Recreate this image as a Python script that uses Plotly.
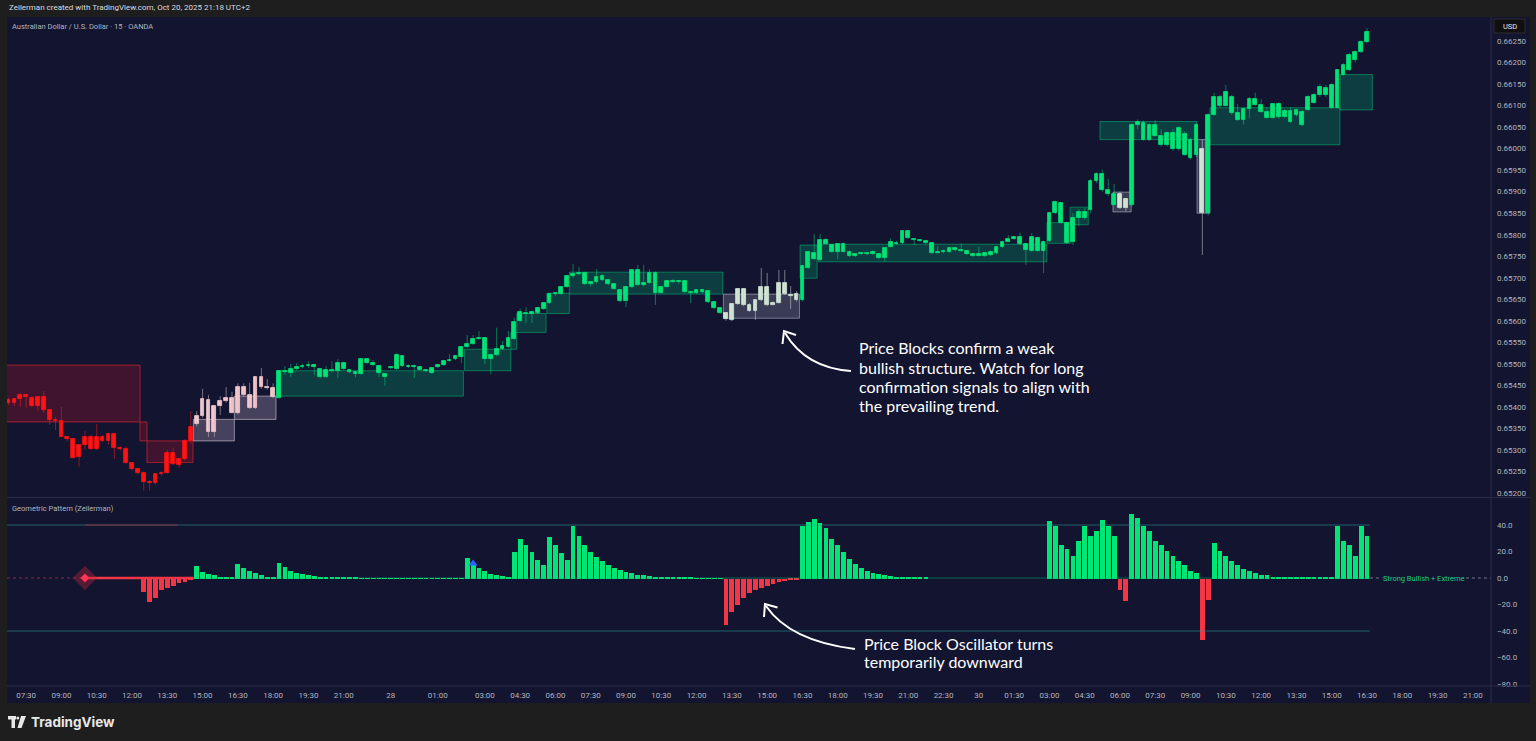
import plotly.graph_objects as go

# ---------------- data ----------------
open_ = [
    0.65416, 0.65409, 0.65418, 0.65428, 0.65421, 0.65402, 0.65423, 0.65393, 0.65370, 0.65368,
    0.65330, 0.65325, 0.65283, 0.65312, 0.65330, 0.65303, 0.65330, 0.65321, 0.65337, 0.65305,
    0.65302, 0.65270, 0.65256, 0.65247, 0.65226, 0.65224, 0.65244, 0.65247, 0.65293, 0.65266,
    0.65279, 0.65321, 0.65360, 0.65379, 0.65416, 0.65342, 0.65402, 0.65414, 0.65420, 0.65386,
    0.65446, 0.65428, 0.65397, 0.65470, 0.65447, 0.65444, 0.65421, 0.65483, 0.65478, 0.65488,
    0.65493, 0.65495, 0.65497, 0.65488, 0.65469, 0.65486, 0.65483, 0.65502, 0.65486, 0.65481,
    0.65476, 0.65511, 0.65502, 0.65495, 0.65476, 0.65490, 0.65488, 0.65518, 0.65495, 0.65493,
    0.65493, 0.65486, 0.65479, 0.65492, 0.65497, 0.65507, 0.65511, 0.65516, 0.65539, 0.65546,
    0.65558, 0.65560, 0.65511, 0.65521, 0.65535, 0.65539, 0.65558, 0.65600, 0.65618, 0.65616,
    0.65618, 0.65627, 0.65641, 0.65662, 0.65662, 0.65679, 0.65704, 0.65709, 0.65711, 0.65686,
    0.65690, 0.65704, 0.65695, 0.65686, 0.65672, 0.65645, 0.65679, 0.65718, 0.65683, 0.65688,
    0.65712, 0.65665, 0.65679, 0.65693, 0.65690, 0.65692, 0.65667, 0.65665, 0.65671, 0.65669,
    0.65644, 0.65629, 0.65618, 0.65602, 0.65639, 0.65673, 0.65637, 0.65623, 0.65648, 0.65678,
    0.65637, 0.65642, 0.65688, 0.65660, 0.65648, 0.65648, 0.65723, 0.65757, 0.65741, 0.65788,
    0.65776, 0.65761, 0.65778, 0.65761, 0.65751, 0.65756, 0.65758, 0.65755, 0.65755, 0.65745,
    0.65772, 0.65781, 0.65780, 0.65809, 0.65790, 0.65788, 0.65785, 0.65780, 0.65758, 0.65759,
    0.65760, 0.65768, 0.65764, 0.65763, 0.65755, 0.65751, 0.65751, 0.65752, 0.65757, 0.65772,
    0.65784, 0.65790, 0.65795, 0.65778, 0.65763, 0.65793, 0.65763, 0.65785, 0.65850, 0.65874,
    0.65828, 0.65782, 0.65839, 0.65853, 0.65857, 0.65924, 0.65940, 0.65905, 0.65894, 0.65894,
    0.65863, 0.65870, 0.66056, 0.66060, 0.66021, 0.66054, 0.66030, 0.66009, 0.66037, 0.65998,
    0.66033, 0.66021, 0.65985, 0.66000, 0.65850, 0.66079, 0.66121, 0.66100, 0.66121, 0.66082,
    0.66067, 0.66093, 0.66116, 0.66102, 0.66086, 0.66072, 0.66104, 0.66074, 0.66088, 0.66077,
    0.66086, 0.66090, 0.66107, 0.66125, 0.66141, 0.66148, 0.66095, 0.66172, 0.66183, 0.66206,
    0.66225, 0.66248,
]
high_ = [
    0.65421, 0.65420, 0.65432, 0.65430, 0.65425, 0.65425, 0.65437, 0.65395, 0.65377, 0.65400,
    0.65332, 0.65328, 0.65312, 0.65344, 0.65335, 0.65360, 0.65335, 0.65340, 0.65340, 0.65310,
    0.65308, 0.65272, 0.65258, 0.65250, 0.65230, 0.65245, 0.65250, 0.65300, 0.65305, 0.65280,
    0.65325, 0.65390, 0.65390, 0.65442, 0.65428, 0.65404, 0.65425, 0.65446, 0.65435, 0.65455,
    0.65455, 0.65456, 0.65470, 0.65490, 0.65465, 0.65455, 0.65485, 0.65495, 0.65500, 0.65502,
    0.65500, 0.65506, 0.65499, 0.65490, 0.65495, 0.65506, 0.65511, 0.65505, 0.65488, 0.65483,
    0.65512, 0.65513, 0.65509, 0.65497, 0.65478, 0.65495, 0.65525, 0.65520, 0.65499, 0.65498,
    0.65495, 0.65488, 0.65492, 0.65499, 0.65509, 0.65523, 0.65520, 0.65541, 0.65567, 0.65567,
    0.65576, 0.65562, 0.65523, 0.65584, 0.65553, 0.65576, 0.65607, 0.65628, 0.65632, 0.65623,
    0.65632, 0.65643, 0.65664, 0.65667, 0.65681, 0.65706, 0.65732, 0.65725, 0.65714, 0.65692,
    0.65720, 0.65708, 0.65697, 0.65688, 0.65674, 0.65681, 0.65720, 0.65730, 0.65730, 0.65720,
    0.65715, 0.65681, 0.65695, 0.65697, 0.65695, 0.65695, 0.65669, 0.65673, 0.65674, 0.65671,
    0.65646, 0.65631, 0.65620, 0.65641, 0.65676, 0.65676, 0.65641, 0.65650, 0.65723, 0.65711,
    0.65645, 0.65718, 0.65718, 0.65681, 0.65669, 0.65730, 0.65763, 0.65802, 0.65802, 0.65792,
    0.65778, 0.65780, 0.65782, 0.65763, 0.65757, 0.65760, 0.65760, 0.65764, 0.65757, 0.65770,
    0.65792, 0.65786, 0.65811, 0.65811, 0.65792, 0.65790, 0.65787, 0.65782, 0.65773, 0.65765,
    0.65772, 0.65770, 0.65780, 0.65765, 0.65758, 0.65772, 0.65758, 0.65763, 0.65774, 0.65786,
    0.65799, 0.65796, 0.65805, 0.65780, 0.65804, 0.65796, 0.65786, 0.65853, 0.65879, 0.65876,
    0.65830, 0.65850, 0.65860, 0.65862, 0.65930, 0.65945, 0.65951, 0.65930, 0.65918, 0.65900,
    0.65885, 0.66060, 0.66068, 0.66065, 0.66058, 0.66066, 0.66046, 0.66040, 0.66046, 0.66052,
    0.66040, 0.66025, 0.66060, 0.66021, 0.66082, 0.66130, 0.66125, 0.66148, 0.66125, 0.66104,
    0.66095, 0.66120, 0.66130, 0.66115, 0.66096, 0.66106, 0.66108, 0.66092, 0.66096, 0.66093,
    0.66090, 0.66125, 0.66130, 0.66150, 0.66148, 0.66152, 0.66185, 0.66198, 0.66222, 0.66228,
    0.66252, 0.66280,
]
low_ = [
    0.65404, 0.65402, 0.65400, 0.65398, 0.65400, 0.65390, 0.65386, 0.65358, 0.65346, 0.65330,
    0.65320, 0.65280, 0.65261, 0.65300, 0.65300, 0.65300, 0.65318, 0.65312, 0.65279, 0.65298,
    0.65268, 0.65252, 0.65244, 0.65205, 0.65205, 0.65220, 0.65240, 0.65245, 0.65265, 0.65258,
    0.65275, 0.65315, 0.65355, 0.65375, 0.65330, 0.65330, 0.65381, 0.65410, 0.65385, 0.65382,
    0.65424, 0.65395, 0.65395, 0.65442, 0.65440, 0.65420, 0.65419, 0.65474, 0.65470, 0.65485,
    0.65490, 0.65490, 0.65474, 0.65466, 0.65467, 0.65480, 0.65467, 0.65486, 0.65478, 0.65469,
    0.65474, 0.65500, 0.65495, 0.65469, 0.65449, 0.65488, 0.65486, 0.65493, 0.65490, 0.65467,
    0.65484, 0.65481, 0.65477, 0.65490, 0.65495, 0.65505, 0.65509, 0.65502, 0.65537, 0.65544,
    0.65556, 0.65500, 0.65476, 0.65518, 0.65532, 0.65537, 0.65556, 0.65598, 0.65595, 0.65595,
    0.65615, 0.65625, 0.65639, 0.65658, 0.65660, 0.65677, 0.65700, 0.65706, 0.65684, 0.65680,
    0.65686, 0.65693, 0.65683, 0.65672, 0.65643, 0.65632, 0.65676, 0.65681, 0.65680, 0.65686,
    0.65637, 0.65663, 0.65677, 0.65688, 0.65686, 0.65665, 0.65641, 0.65662, 0.65664, 0.65641,
    0.65627, 0.65616, 0.65600, 0.65599, 0.65637, 0.65634, 0.65621, 0.65602, 0.65646, 0.65634,
    0.65636, 0.65640, 0.65660, 0.65627, 0.65645, 0.65645, 0.65721, 0.65742, 0.65739, 0.65776,
    0.65759, 0.65743, 0.65759, 0.65748, 0.65749, 0.65753, 0.65752, 0.65753, 0.65743, 0.65737,
    0.65770, 0.65777, 0.65778, 0.65790, 0.65776, 0.65783, 0.65779, 0.65755, 0.65756, 0.65757,
    0.65758, 0.65762, 0.65760, 0.65753, 0.65749, 0.65750, 0.65749, 0.65750, 0.65755, 0.65770,
    0.65782, 0.65788, 0.65776, 0.65730, 0.65761, 0.65761, 0.65711, 0.65783, 0.65848, 0.65826,
    0.65778, 0.65776, 0.65820, 0.65835, 0.65850, 0.65920, 0.65900, 0.65890, 0.65868, 0.65860,
    0.65855, 0.65865, 0.66045, 0.66019, 0.66018, 0.66028, 0.66005, 0.66005, 0.65995, 0.65995,
    0.65984, 0.65975, 0.65980, 0.65753, 0.65845, 0.66077, 0.66095, 0.66098, 0.66079, 0.66065,
    0.66056, 0.66070, 0.66100, 0.66084, 0.66070, 0.66070, 0.66070, 0.66072, 0.66060, 0.66075,
    0.66052, 0.66088, 0.66105, 0.66120, 0.66120, 0.66093, 0.66093, 0.66170, 0.66180, 0.66200,
    0.66222, 0.66245,
]
close_ = [
    0.65409, 0.65418, 0.65428, 0.65423, 0.65402, 0.65423, 0.65393, 0.65370, 0.65368, 0.65330,
    0.65325, 0.65281, 0.65312, 0.65330, 0.65303, 0.65330, 0.65321, 0.65337, 0.65305, 0.65302,
    0.65270, 0.65256, 0.65247, 0.65226, 0.65224, 0.65244, 0.65247, 0.65293, 0.65268, 0.65279,
    0.65321, 0.65353, 0.65379, 0.65418, 0.65342, 0.65402, 0.65414, 0.65420, 0.65386, 0.65446,
    0.65428, 0.65397, 0.65470, 0.65447, 0.65444, 0.65423, 0.65483, 0.65480, 0.65488, 0.65493,
    0.65496, 0.65497, 0.65492, 0.65469, 0.65486, 0.65484, 0.65502, 0.65488, 0.65481, 0.65476,
    0.65511, 0.65502, 0.65497, 0.65479, 0.65469, 0.65493, 0.65521, 0.65495, 0.65493, 0.65495,
    0.65486, 0.65483, 0.65490, 0.65497, 0.65507, 0.65510, 0.65518, 0.65539, 0.65546, 0.65558,
    0.65561, 0.65511, 0.65521, 0.65535, 0.65541, 0.65560, 0.65597, 0.65620, 0.65616, 0.65620,
    0.65630, 0.65641, 0.65662, 0.65665, 0.65679, 0.65704, 0.65709, 0.65711, 0.65686, 0.65690,
    0.65702, 0.65695, 0.65686, 0.65674, 0.65645, 0.65679, 0.65718, 0.65683, 0.65688, 0.65712,
    0.65665, 0.65679, 0.65693, 0.65690, 0.65692, 0.65667, 0.65665, 0.65671, 0.65667, 0.65644,
    0.65629, 0.65618, 0.65604, 0.65639, 0.65673, 0.65637, 0.65623, 0.65648, 0.65678, 0.65637,
    0.65642, 0.65688, 0.65662, 0.65658, 0.65662, 0.65727, 0.65761, 0.65744, 0.65788, 0.65778,
    0.65761, 0.65778, 0.65761, 0.65750, 0.65756, 0.65758, 0.65755, 0.65759, 0.65745, 0.65768,
    0.65782, 0.65779, 0.65809, 0.65792, 0.65788, 0.65785, 0.65781, 0.65757, 0.65760, 0.65763,
    0.65770, 0.65764, 0.65762, 0.65755, 0.65751, 0.65756, 0.65757, 0.65761, 0.65772, 0.65784,
    0.65790, 0.65794, 0.65778, 0.65764, 0.65794, 0.65763, 0.65784, 0.65851, 0.65877, 0.65828,
    0.65780, 0.65839, 0.65853, 0.65839, 0.65924, 0.65940, 0.65905, 0.65894, 0.65870, 0.65863,
    0.65882, 0.66056, 0.66063, 0.66021, 0.66054, 0.66030, 0.66009, 0.66037, 0.65998, 0.66049,
    0.65986, 0.65979, 0.66056, 0.65850, 0.66079, 0.66121, 0.66100, 0.66132, 0.66082, 0.66067,
    0.66093, 0.66116, 0.66102, 0.66086, 0.66072, 0.66104, 0.66074, 0.66088, 0.66063, 0.66090,
    0.66056, 0.66121, 0.66125, 0.66144, 0.66125, 0.66095, 0.66183, 0.66195, 0.66218, 0.66225,
    0.66248, 0.66271,
]

# candle colouring state (run starts)
state_run_start = [0, 32, 46, 122, 135, 189, 191, 203, 204]
state_run_kind = ["bear", "bear_weak", "bull", "bull_weak", "bull", "bull_weak", "bull", "bull_weak", "bull"]

# oscillator values
osc = [
    0, 0, 0, 0, 0, 0, 0, 0, 0, 0,
    0, 0, 0, 0, 0, 0, 0, 0, 0, 0,
    0, 0, 0, -10.5, -17.5, -15, -9, -7.5, -5.5, -3.5,
    -2.5, -1.5, 9.5, 5, 3.5, 2.5, 1.5, 1.2, 0.8, 11,
    8, 5.5, 4, 2.5, 1.5, 1.0, 11.5, 8.5, 6, 4,
    3.3, 2.5, 2, 1.5, 1.2, 1, 0.8, 0.6, 0.5, 0.4,
    0.35, 0.3, 0.25, 0.2, 0.2, 0.15, 0.15, 0.15, 0.1, 0.1,
    0.1, 0.1, 0.1, 0.1, 0.1, 0.1, 0.1, 0.1, 15.3, 11,
    7.8, 5.3, 3.5, 2.8, 2, 1.5, 20, 30, 25, 20,
    14, 10, 31, 25, 19, 14, 40, 32, 25, 20,
    16, 13, 10, 8, 6.5, 5, 4, 3, 2.5, 2,
    1.5, 1.2, 1, 0.8, 0.6, 0.5, 0.4, 0.3, 0.3, 0.2,
    0.2, 0.2, -35, -25, -20, -15, -11, -9, -7, -5.5,
    -4, -3, -2.2, -1.5, -1, 40, 43, 45, 42, 38,
    30, 25, 20, 15, 11, 8, 6, 4.5, 3.5, 2.5,
    2, 1.5, 1.2, 1, 0.8, 0.7, 0.6, 0, 0, 0,
    0, 0, 0, 0, 0, 0, 0, 0, 0, 0,
    0, 0, 0, 0, 0, 0, 0, 43.6, 40, 25,
    22.5, 17, 28.5, 40, 32, 36, 44, 40, 32, -9,
    -17, 49, 46, 40, 36, 28.5, 25, 21, 17, 13.5,
    10, 6, 4, -46.6, -16.5, 27, 21, 17, 13.5, 10,
    7.5, 6, 4.5, 3, 2.3, 1.5, 1.2, 1, 0.9, 0.8,
    0.7, 0.6, 0.5, 0.5, 0.4, 0.4, 40, 28.5, 25, 17,
    40, 32,
]
signal_bar = 13          # diamond signal on zero line
signal_up_bar = 79       # blue triangle
signal_up_value = 11

# price blocks (bar-index edges, prices)
block_start = [-1, 22.36, 23.55, 31.43, 38.40, 45.61, 77.52, 85.41, 86.43, 91.53, 95.37,
               121.56, 134.6, 137.72, 176.57, 180.5, 187.8, 185.6, 202.1, 204.3, 226.4]
block_end = [22.36, 23.55, 31.37, 38.40, 45.49, 77.35, 85.41, 86.43, 91.41, 95.37, 121.46,
             134.49, 137.5, 176.57, 180.53, 183.6, 190.9, 202.1, 204.3, 226.4, 231.9]
block_top = [0.65497, 0.65365, 0.65321, 0.65371, 0.65425, 0.65484, 0.65534, 0.65573, 0.65617,
             0.65664, 0.65713, 0.65662, 0.65776, 0.65778, 0.65828, 0.65864, 0.65899, 0.66063,
             0.66021, 0.66095, 0.66172]
block_bottom = [0.65365, 0.65321, 0.65271, 0.65321, 0.65371, 0.65425, 0.65484, 0.65534, 0.65573,
                0.65617, 0.65662, 0.65606, 0.65699, 0.65737, 0.65780, 0.65823, 0.65853, 0.66021,
                0.65850, 0.66009, 0.66090]
block_kind = ["bear", "bear", "bear", "bear_weak", "bear_weak", "bull", "bull", "bull", "bull",
              "bull", "bull", "bull_weak", "bull", "bull", "bull", "bull", "bull_weak", "bull",
              "bull_weak", "bull", "bull"]

price_ticks = [0.65200, 0.65250, 0.65300, 0.65350, 0.65400, 0.65450, 0.65500, 0.65550,
               0.65600, 0.65650, 0.65700, 0.65750, 0.65800, 0.65850, 0.65900, 0.65950,
               0.66000, 0.66050, 0.66100, 0.66150, 0.66200, 0.66250]
osc_ticks = [40, 20, 0, -20, -40, -60, -80]
osc_tick_labels = ["40.0", "20.0", "0.0", "\u221220.0", "\u221240.0", "\u221260.0", "\u221280.0"]
time_tick_bars = [3, 9, 15, 21, 27, 33, 39, 45, 51, 57, 65, 73, 81, 87, 93, 99, 105, 111, 117,
                  123, 129, 135, 141, 147, 153, 159, 165, 171, 177, 183, 189, 195, 201, 207,
                  213, 219, 225, 231, 237, 243, 249]
time_tick_labels = ["07:30", "09:00", "10:30", "12:00", "13:30", "15:00", "16:30", "18:00",
                    "19:30", "21:00", "28", "01:00", "03:00", "04:30", "06:00", "07:30",
                    "09:00", "10:30", "12:00", "13:30", "15:00", "16:30", "18:00", "19:30",
                    "21:00", "22:30", "30", "01:30", "03:00", "04:30", "06:00", "07:30",
                    "09:00", "10:30", "12:00", "13:30", "15:00", "16:30", "18:00", "19:30",
                    "21:00"]

# ---------------- styling ----------------
W, H = 1536, 741
ML, MR, MT, MB = 7, 45, 17, 55
PW = W - ML - MR
PH = H - MT - MB
NAVY = "#121430"
OUTER = "#1e1e1e"
SEP = "#2a2d48"
AXIS_FONT = dict(family="Roboto", size=8, color="#b2b5be")


def px(xp):
    return (xp - ML) / PW


def py(yp):
    return (H - MB - yp) / PH


body_color = {"bear": "#ff1212", "bear_weak": "#f7c9cd", "bull": "#00e676", "bull_weak": "#d3e6d5"}
wick_color = {"bear": "rgba(255,30,30,0.5)", "bear_weak": "rgba(200,185,200,0.55)",
              "bull": "rgba(0,220,115,0.5)", "bull_weak": "rgba(200,210,205,0.55)"}
box_fill = {"bear": "rgba(190,20,45,0.27)", "bear_weak": "rgba(210,190,210,0.27)",
            "bull": "rgba(0,175,110,0.27)", "bull_weak": "rgba(195,205,215,0.22)"}
box_line = {"bear": "rgba(200,35,50,0.75)", "bear_weak": "rgba(215,200,215,0.6)",
            "bull": "rgba(0,200,120,0.5)", "bull_weak": "rgba(205,210,220,0.5)"}

n = len(close_)
state = []
for k, s in enumerate(state_run_start):
    e = state_run_start[k + 1] if k + 1 < len(state_run_start) else n
    state += [state_run_kind[k]] * (e - s)

XR = [-0.255, PW / 5.881 - 0.255]

fig = go.Figure()

# candles
for kind in ["bear", "bear_weak", "bull", "bull_weak"]:
    idx = [i for i in range(n) if state[i] == kind]
    if not idx:
        continue
    wx, wy = [], []
    for i in idx:
        wx += [i, i, None]
        wy += [high_[i], low_[i], None]
    fig.add_trace(go.Scatter(x=wx, y=wy, mode="lines", line=dict(color=wick_color[kind], width=1),
                             xaxis="x", yaxis="y", hoverinfo="skip"))
    fig.add_trace(go.Bar(x=idx, y=[abs(close_[i] - open_[i]) for i in idx],
                         base=[min(open_[i], close_[i]) for i in idx], width=0.64,
                         marker=dict(color=body_color[kind], line=dict(color=body_color[kind], width=0.8)),
                         xaxis="x", yaxis="y", hoverinfo="skip"))

# oscillator level lines
last = n - 0.5
for lvl in (40, -40):
    fig.add_trace(go.Scatter(x=[XR[0], last], y=[lvl, lvl], mode="lines",
                             line=dict(color="rgba(40,160,150,0.55)", width=1),
                             xaxis="x2", yaxis="y2", hoverinfo="skip"))
fig.add_trace(go.Scatter(x=[signal_bar, 28.8], y=[40, 40], mode="lines",
                         line=dict(color="rgba(200,40,60,0.65)", width=1),
                         xaxis="x2", yaxis="y2", hoverinfo="skip"))
# zero line
fig.add_trace(go.Scatter(x=[XR[0], signal_bar], y=[0, 0], mode="lines",
                         line=dict(color="rgba(220,50,70,0.6)", width=1, dash="dot"),
                         xaxis="x2", yaxis="y2", hoverinfo="skip"))
fig.add_trace(go.Scatter(x=[31.5, last], y=[0, 0], mode="lines",
                         line=dict(color="rgba(0,200,120,0.45)", width=1),
                         xaxis="x2", yaxis="y2", hoverinfo="skip"))
fig.add_trace(go.Scatter(x=[signal_bar, 31.5], y=[0, 0], mode="lines",
                         line=dict(color="#f23645", width=2.5),
                         xaxis="x2", yaxis="y2", hoverinfo="skip"))
# label dotted line
fig.add_trace(go.Scatter(x=[last, XR[1]], y=[0, 0], mode="lines",
                         line=dict(color="rgba(150,155,170,0.75)", width=1, dash="dot"),
                         xaxis="x2", yaxis="y2", hoverinfo="skip"))

# oscillator histogram
fig.add_trace(go.Bar(x=list(range(n)), y=osc, width=0.82,
                     marker=dict(color=["#00e676" if v >= 0 else "#f23645" for v in osc], line=dict(width=0)),
                     xaxis="x2", yaxis="y2", hoverinfo="skip"))

# signal markers
fig.add_trace(go.Scatter(x=[signal_bar], y=[0], mode="markers",
                         marker=dict(symbol="diamond", size=19, color="rgba(190,40,60,0.38)"),
                         xaxis="x2", yaxis="y2", hoverinfo="skip"))
fig.add_trace(go.Scatter(x=[signal_bar], y=[0], mode="markers",
                         marker=dict(symbol="diamond", size=7, color="#ff3355"),
                         xaxis="x2", yaxis="y2", hoverinfo="skip"))
fig.add_trace(go.Scatter(x=[signal_up_bar], y=[signal_up_value], mode="markers",
                         marker=dict(symbol="triangle-up", size=8, color="#2962ff"),
                         xaxis="x2", yaxis="y2", hoverinfo="skip"))

# ---------------- shapes ----------------
shapes = []
shapes.append(dict(type="rect", xref="paper", yref="paper", x0=px(ML), x1=px(1530), y0=py(703), y1=py(17),
                   fillcolor=NAVY, line=dict(width=0), layer="below"))
for s, e, t, b, k in zip(block_start, block_end, block_top, block_bottom, block_kind):
    shapes.append(dict(type="rect", xref="x", yref="y", x0=s, x1=e, y0=b, y1=t,
                       fillcolor=box_fill[k], line=dict(color=box_line[k], width=1), layer="below"))
shapes.append(dict(type="line", xref="paper", yref="paper", x0=1, x1=1, y0=py(703), y1=py(17),
                   line=dict(color=SEP, width=1)))
shapes.append(dict(type="line", xref="paper", yref="paper", x0=px(ML), x1=px(1530), y0=py(497.5), y1=py(497.5),
                   line=dict(color=SEP, width=1)))
shapes.append(dict(type="line", xref="paper", yref="paper", x0=px(ML), x1=px(1530), y0=py(686), y1=py(686),
                   line=dict(color=SEP, width=1)))
shapes.append(dict(type="rect", xref="paper", yref="paper", x0=px(1494), x1=px(1525), y0=py(33), y1=py(19),
                   fillcolor="#101012", line=dict(color="#2c2c30", width=1)))


def path_q(x0, y0, cx, cy, x1, y1):
    return f"M {px(x0)},{py(y0)} Q {px(cx)},{py(cy)} {px(x1)},{py(y1)}"


arrow_line = dict(color="white", width=2)
shapes.append(dict(type="path", xref="paper", yref="paper", path=path_q(851, 371, 806, 368, 785, 333), line=arrow_line))
shapes.append(dict(type="path", xref="paper", yref="paper",
                   path=f"M {px(796)},{py(335)} L {px(784)},{py(331)} L {px(782.5)},{py(344)}", line=arrow_line))
shapes.append(dict(type="path", xref="paper", yref="paper", path=path_q(855, 649, 790, 641, 766, 606), line=arrow_line))
shapes.append(dict(type="path", xref="paper", yref="paper",
                   path=f"M {px(777.5)},{py(607.5)} L {px(765)},{py(604)} L {px(764)},{py(617)}", line=arrow_line))
logo_col = "#e8e8e8"
shapes.append(dict(type="rect", xref="paper", yref="paper", x0=px(8), x1=px(16), y0=py(719.5), y1=py(716),
                   fillcolor=logo_col, line=dict(width=0)))
shapes.append(dict(type="rect", xref="paper", yref="paper", x0=px(11.5), x1=px(15), y0=py(728), y1=py(716),
                   fillcolor=logo_col, line=dict(width=0)))
shapes.append(dict(type="circle", xref="paper", yref="paper", x0=px(16.3), x1=px(19.3), y0=py(719.5), y1=py(716.5),
                   fillcolor=logo_col, line=dict(width=0)))
shapes.append(dict(type="path", xref="paper", yref="paper",
                   path=f"M {px(21)},{py(716)} L {px(26)},{py(716)} L {px(21.5)},{py(728)} L {px(17.5)},{py(728)} Z",
                   fillcolor=logo_col, line=dict(width=0)))

# ---------------- annotations ----------------
ann = []


def text_at(xp, yp, txt, size, color, family="Roboto", anchor="left", bg=None):
    d = dict(xref="paper", yref="paper", x=px(xp), y=py(yp), text=txt, showarrow=False,
             xanchor=anchor, yanchor="middle", font=dict(family=family, size=size, color=color))
    if bg:
        d["bgcolor"] = bg
    ann.append(d)


text_at(7, 8, "Zeilerman created with TradingView.com, Oct 20, 2025 21:18 UTC+2", 8, "#d9dbe0")
text_at(10, 26, "Australian Dollar / U.S. Dollar \u00b7 15 \u00b7 OANDA", 7.5, "#b2b5be")
text_at(10, 508, "Geometric Pattern (Zeilerman)", 7.5, "#b2b5be")
text_at(1509.5, 26, "USD", 7.5, "#e6e6e6", anchor="center")
text_at(29, 722, "<b>TradingView</b>", 13.5, "#e8e8e8", family="Inter")
for k, line in enumerate(["Price Blocks confirm a weak", "bullish structure. Watch for long",
                          "confirmation signals to align with", "the prevailing trend."]):
    text_at(857, 348 + 19 * k, line, 16, "#ffffff", family="Lato")
for k, line in enumerate(["Price Block Oscillator turns", "temporarily downward"]):
    text_at(862, 643 + 18 * k, line, 16, "#ffffff", family="Lato")
ann.append(dict(xref="x2", yref="y2", x=233.6, y=0, text="Strong Bullish + Extreme", showarrow=False,
                xanchor="left", yanchor="middle", bgcolor=NAVY, borderpad=0,
                font=dict(family="Roboto", size=7.5, color="#1fcf80")))

fig.update_layout(
    width=W, height=H, autosize=False,
    margin=dict(l=ML, r=MR, t=MT, b=MB),
    paper_bgcolor=OUTER, plot_bgcolor=NAVY,
    showlegend=False, hovermode=False, barmode="overlay", bargap=0,
    font=dict(family="Roboto", color="#b2b5be"),
    shapes=shapes, annotations=ann,
    xaxis=dict(domain=[0, 1], range=XR, anchor="y", showticklabels=False, showgrid=False,
               zeroline=False, showline=False, ticks=""),
    yaxis=dict(domain=[py(497.5), 1], range=[0.651895, 0.663058], side="right", anchor="x",
               tickvals=price_ticks, ticktext=[f"{v:.5f}" for v in price_ticks], ticks="",
               ticklabelstandoff=5, showgrid=False, zeroline=False, showline=False, tickfont=AXIS_FONT),
    xaxis2=dict(domain=[0, 1], range=XR, anchor="y2", matches="x", tickvals=time_tick_bars,
                ticktext=time_tick_labels, ticks="", showgrid=False, zeroline=False, showline=False,
                ticklabelstandoff=3, tickfont=AXIS_FONT),
    yaxis2=dict(domain=[0, py(498.5)], range=[-81.5, 60.0], side="right", anchor="x2",
                tickvals=osc_ticks, ticktext=osc_tick_labels, ticks="", ticklabelstandoff=5,
                showgrid=False, zeroline=False, showline=False, tickfont=AXIS_FONT),
)

fig.write_html("out.html", config={"displayModeBar": False},
               post_script="document.body.style.margin='0px';document.body.style.background='#1e1e1e';")
